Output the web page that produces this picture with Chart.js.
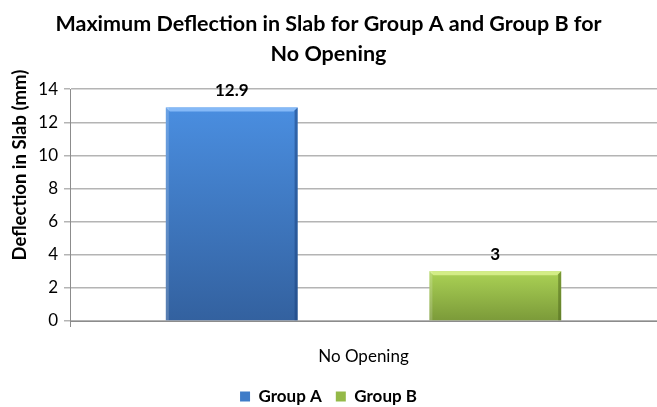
<!DOCTYPE html>
<html>
<head>
<meta charset="utf-8">
<script src="https://cdn.jsdelivr.net/npm/chart.js@4"></script>
<style>
html,body{margin:0;padding:0;background:#fff;}
#wrap{width:657px;height:407px;position:relative;}
</style>
</head>
<body>
<div id="wrap"><canvas id="c" width="657" height="407"></canvas></div>
<script>
const categories = ["No Opening"];
const seriesNames = ["Group A", "Group B"];
const groupA = [12.9];
const groupB = [3];
const yTicks = [0, 2, 4, 6, 8, 10, 12, 14];
const titleLines = ["Maximum Deflection in Slab for Group A and Group B for", "No Opening"];
const yTitle = "Deflection in Slab (mm)";

const FONT = "Lato, 'Open Sans', sans-serif";

function vGrad(ctx, c1, c2) {
  const chart = ctx.chart;
  const area = chart.chartArea;
  if (!area) return c1;
  const y = chart.scales.y;
  const yTop = y.getPixelForValue(ctx.raw == null ? 0 : ctx.raw);
  const yBot = y.getPixelForValue(0);
  const g = chart.ctx.createLinearGradient(0, yTop, 0, yBot);
  g.addColorStop(0, c1);
  g.addColorStop(1, c2);
  return g;
}

const dataLabels = {
  id: 'dataLabels',
  afterDatasetsDraw(chart) {
    const ctx = chart.ctx;
    ctx.save();
    ctx.font = "bold 17px " + FONT;
    ctx.fillStyle = "#000";
    ctx.textAlign = "center";
    ctx.textBaseline = "middle";
    chart.data.datasets.forEach((ds, i) => {
      const meta = chart.getDatasetMeta(i);
      meta.data.forEach((bar, j) => {
        ctx.fillText(String(ds.data[j]), bar.x, bar.y - 17);
      });
    });
    ctx.restore();
  }
};

const yAxisTitle = {
  id: 'yAxisTitle',
  afterDraw(chart) {
    const ctx = chart.ctx;
    const area = chart.chartArea;
    ctx.save();
    ctx.font = "bold 18.5px " + FONT;
    ctx.fillStyle = "#000";
    ctx.textAlign = "center";
    ctx.textBaseline = "middle";
    ctx.translate(20, area.top - 24 + (area.bottom - area.top) / 2 - 16);
    ctx.rotate(-Math.PI / 2);
    ctx.fillText(yTitle, 0, 0);
    ctx.restore();
  }
};

const bevel = {
  id: 'bevel',
  afterDatasetDraw(chart, args) {
    const ctx = chart.ctx;
    const meta = args.meta;
    const light = args.index === 0 ? "rgba(140,190,250,0.9)" : "rgba(215,240,140,0.9)";
    const dark = args.index === 0 ? "rgba(30,70,130,0.55)" : "rgba(80,105,30,0.55)";
    ctx.save();
    meta.data.forEach(bar => {
      const l = bar.x - bar.width / 2, r = bar.x + bar.width / 2, t = bar.y, b = bar.base;
      ctx.fillStyle = light;
      ctx.beginPath();
      ctx.moveTo(l, t); ctx.lineTo(r, t); ctx.lineTo(r - 4, t + 4); ctx.lineTo(l + 4, t + 4); ctx.closePath();
      ctx.fill();
      ctx.fillStyle = dark;
      ctx.beginPath();
      ctx.moveTo(r, t); ctx.lineTo(r, b); ctx.lineTo(r - 3, b); ctx.lineTo(r - 3, t + 3); ctx.closePath();
      ctx.fill();
      ctx.fillStyle = "rgba(255,255,255,0.18)";
      ctx.fillRect(l, t, 3, b - t);
    });
    ctx.restore();
  }
};

new Chart(document.getElementById('c'), {
  type: 'bar',
  data: {
    labels: categories,
    datasets: [
      {
        label: seriesNames[0],
        data: groupA,
        backgroundColor: (ctx) => vGrad(ctx, "#4a8ee0", "#33619f"),
        borderWidth: 0,
        categoryPercentage: 0.898,
        barPercentage: 0.5
      },
      {
        label: seriesNames[1],
        data: groupB,
        backgroundColor: (ctx) => vGrad(ctx, "#abd255", "#7b9a39"),
        borderWidth: 0,
        categoryPercentage: 0.898,
        barPercentage: 0.5
      }
    ]
  },
  options: {
    responsive: false,
    animation: false,
    layout: { padding: { left: 0, right: 0, top: 0, bottom: 0 } },
    plugins: {
      title: {
        display: true,
        text: titleLines,
        color: "#000",
        font: { family: FONT, size: 21.5, weight: 'bold', lineHeight: 1.4 },
        padding: { top: 9, bottom: 20 }
      },
      legend: {
        position: 'bottom',
        maxHeight: 33,
        labels: {
          color: "#000",
          font: { family: FONT, size: 17, weight: 'bold' },
          boxWidth: 10,
          boxHeight: 10,
          padding: 14,
          generateLabels(chart) {
            const cols = ["#3f7cc8", "#94b948"];
            return chart.data.datasets.map((ds, i) => ({
              text: ds.label,
              fillStyle: cols[i],
              strokeStyle: cols[i],
              lineWidth: 0,
              datasetIndex: i
            }));
          }
        }
      },
      tooltip: { enabled: false }
    },
    scales: {
      x: {
        afterFit(scale) { scale.height = 53; },
        grid: { display: true, drawOnChartArea: false, drawTicks: true, tickLength: 6, color: "#8c8c8c", offset: true },
        border: { display: true, color: "#8c8c8c" },
        ticks: { color: "#000", font: { family: FONT, size: 17 }, padding: 19 }
      },
      y: {
        min: 0,
        max: 14,
        afterBuildTicks(scale) { scale.ticks = yTicks.map(v => ({ value: v })); },
        afterFit(scale) { scale.width = 70; },
        grid: { color: "#b4b4b4", lineWidth: 1.5, tickLength: 6 },
        border: { display: true, color: "#8c8c8c" },
        ticks: { color: "#000", font: { family: FONT, size: 17 }, padding: 6 },
        title: { display: false }
      }
    }
  },
  plugins: [dataLabels, bevel, yAxisTitle]
});
</script>
</body>
</html>
